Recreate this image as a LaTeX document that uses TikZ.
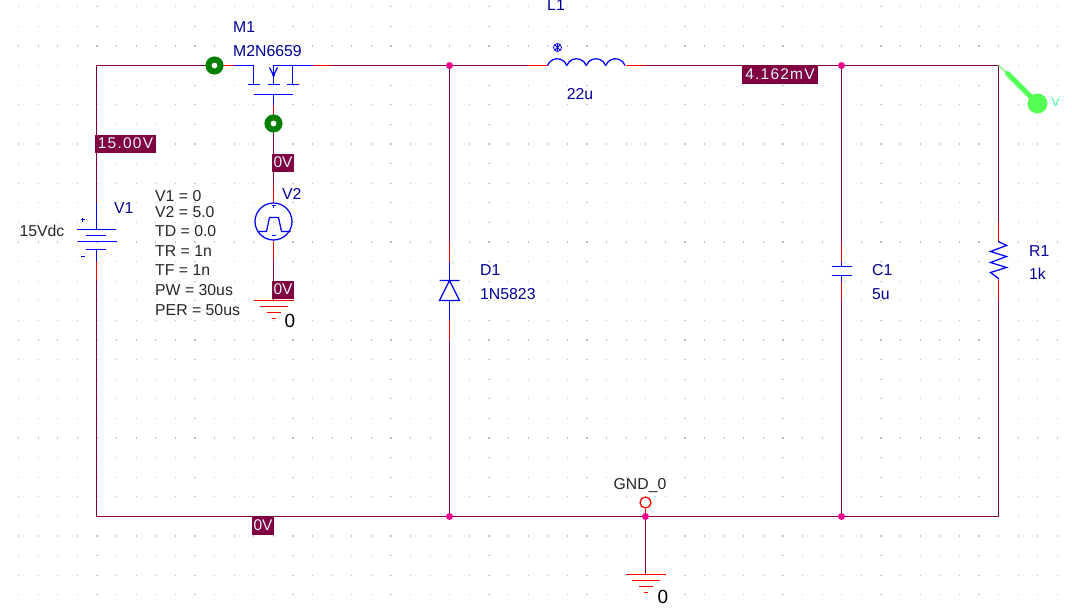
\documentclass[tikz,border=0pt]{standalone}
\usepackage{fontspec}
\setmainfont{Liberation Sans}
\definecolor{wirecol}{RGB}{128,0,64}
\definecolor{partcol}{RGB}{0,0,255}
\definecolor{textcol}{RGB}{0,0,150}
\definecolor{probecol}{RGB}{85,255,85}
\definecolor{markcol}{RGB}{0,128,0}
\definecolor{dotcol}{RGB}{190,190,190}
\tikzset{
  wire/.style={wirecol,line width=1.25pt},
  stub/.style={red,line width=1.25pt},
  part/.style={partcol,line width=1.25pt},
  parttext/.style={textcol,font=\fontsize{15.8}{15.8}\selectfont,inner sep=0pt},
  plaintext/.style={black!85,font=\fontsize{15.8}{15.8}\selectfont,inner sep=0pt},
  voltbox/.style={fill=wirecol,text=white!90!cyan,inner sep=0pt,minimum height=18,font=\fontsize{15.5}{15.5}\selectfont},
  voltwide/.style={voltbox,font=\fontsize{15.5}{15.5}\selectfont\addfontfeature{LetterSpace=8}},
  junc/.style={fill=magenta,inner sep=0pt,shape=circle,minimum size=7},
  ringmark/.style={draw=markcol,line width=6pt,fill=white,inner sep=0pt,shape=circle,minimum size=12},
  gndsym/.pic={
    \draw[stub] (-20,0)--(20,0) (-14,6)--(14,6) (-7,12)--(7,12) (-2,18)--(2,18) ;
  },
}
\begin{document}
\begin{tikzpicture}[x=1pt,y=-1pt]
  \useasboundingbox (-0.5,0.5) rectangle (1071.5,608.5) ;
  \foreach \i in {-4,...,49}
    \foreach \j in {-3,...,27}
      \fill[dotcol] ({96.5+19.6*\i-0.6},{66+19.6*\j-0.6}) rectangle ++(1.2,1.2) ;

  % corners and taps
  \coordinate (TL) at (96,66) ;
  \coordinate (TR) at (998,66) ;
  \coordinate (BL) at (96,517) ;
  \coordinate (BR) at (998,517) ;
  \node[junc] (JD) at (449,66) {} ;
  \node[junc] (JC) at (841,66) {} ;
  \node[junc] (KD) at (449,517) {} ;
  \node[junc] (KG) at (645,517) {} ;
  \node[junc] (KC) at (841,517) {} ;

  % part terminals
  \coordinate (V1a) at (96,203) ;
  \coordinate (V1b) at (96,261) ;
  \coordinate (V1c) at (96,280) ;
  \coordinate (Mr) at (215,66) ;
  \coordinate (Ms) at (233,66) ;
  \coordinate (Md) at (312,66) ;
  \coordinate (Mt) at (330,66) ;
  \coordinate (Mg) at (273,105) ;
  \coordinate (Mh) at (273,124) ;
  \coordinate (V2a) at (273,185) ;
  \coordinate (V2s) at (273,203) ;
  \coordinate (V2t) at (273,241) ;
  \coordinate (V2b) at (273,261) ;
  \coordinate (La) at (527,66) ;
  \coordinate (Lb) at (547,66) ;
  \coordinate (Lc) at (625,66) ;
  \coordinate (Ld) at (645,66) ;
  \coordinate (Da) at (449,242) ;
  \coordinate (Db) at (449,262) ;
  \coordinate (Dc) at (449,320) ;
  \coordinate (Dd) at (449,340) ;
  \coordinate (Ca) at (841,243) ;
  \coordinate (Cb) at (841,262) ;
  \coordinate (Cc) at (841,282) ;
  \coordinate (Cd) at (841,301) ;
  \coordinate (Ra) at (998,222) ;
  \coordinate (Rb) at (998,242) ;
  \coordinate (Rc) at (998,280) ;
  \coordinate (Rd) at (998,301) ;
  \coordinate (G0) at (273,301) ;
  \coordinate (G1) at (645,575) ;

  % wires
  \draw[wire] (V1a)--(TL)--(Mr) ;
  \draw[wire] (Mt)--(JD)--(La) ;
  \draw[wire] (Ld)--(JC)--(TR)--(Ra) ;
  \draw[wire] (Rd)--(BR)--(KC)--(KG)--(KD)--(BL)--(V1c) ;
  \draw[wire] (JD)--(Da) (Dd)--(KD) ;
  \draw[wire] (JC)--(Ca) (Cd)--(KC) ;
  \draw[wire] (KG)--(G1) ;
  \draw[wire] (Mh)--(V2a) (V2b)--(G0) ;

  % red stubs
  \draw[stub] (V1b)--(V1c) ;
  \draw[stub] (Mr)--(Ms) (Md)--(Mt) ;
  \draw[stub] (Mg)--(Mh) ;
  \draw[stub] (V2a)--(V2s) (V2t)--(V2b) ;
  \draw[stub] (La)--(Lb) (Lc)--(Ld) ;
  \draw[stub] (Da)--(Db) (Dc)--(Dd) ;
  \draw[stub] (Ca)--(Cb) (Cc)--(Cd) ;
  \draw[stub] (Ra)--(Rb) (Rc)--(Rd) ;

  % V1
  \draw[part] (V1a)--(96,230) (96,250)--(V1b) ;
  \draw[part] (76,230)--(115,230) (85,236)--(105,236) (77,242)--(116,242) (85,250)--(105,250) ;
  \draw[part] (80,220)--(84,220) (82,218)--(82,222) (80,257)--(84,257) ;
  % M1
  \draw[part] (Ms)--(253,66)--(253,85) (247,85)--(259,85) ;
  \draw[part] (Md)--(273,66)--(273,85) (267,85)--(279,85) ;
  \draw[part] (292,66)--(292,85) (286,85)--(298,85) ;
  \draw[part] (269,68)--(273,76)--(277,68) ;
  \fill[partcol] (273,76) circle (1.5) ;
  \draw[part] (253,95)--(292,95) (273,95)--(Mg) ;
  % V2
  \node[draw=partcol,line width=1.25pt,shape=circle,minimum size=37,inner sep=0pt] (V2c) at (273,222) {} ;
  \draw[part] (258,232)--(266,232)--(269,218)--(278,218)--(281,232)--(290,232) ;
  \draw[part] (271,206)--(275,206) (273,206)--(273,208) (271,236)--(275,236) ;
  % L1
  \draw[part] (Lb) arc (200:340:10.3) ;
  \draw[part] (566.4,66) arc (200:340:10.3) ;
  \draw[part] (585.8,66) arc (200:340:10.3) ;
  \draw[part] (605.2,66) arc (200:340:10.3) ;
  \draw[part,line width=0.8pt] (557,48) circle (4) (554.2,45.2)--(559.8,50.8) (554.2,50.8)--(559.8,45.2) (557,44)--(557,52) ;
  % D1
  \draw[part] (Db)--(449,281) (449,301)--(Dc) ;
  \draw[part] (439,281)--(459,281) (449,281)--(439,301)--(459,301)--cycle ;
  % C1
  \draw[part] (Cb)--(841,267) (841,276)--(Cc) ;
  \draw[part] (831,267)--(851,267) (831,276)--(851,276) ;
  % R1
  \draw[part] (Rb)--(1006,246)--(990,252)--(1006,257)--(990,263)--(1006,268)--(990,273)--(998,279)--(Rc) ;

  % grounds
  \pic at (G0) {gndsym} ;
  \pic at (G1) {gndsym} ;
  \node[draw=red,line width=1.25pt,shape=circle,minimum size=11,inner sep=0pt] (GO) at (645,503) {} ;
  \draw[stub] (GO)--(KG) ;

  % markers
  \node[ringmark] (RA) at (214,66) {} ;
  \node[ringmark] (RB) at (Mh) {} ;
  \node[fill=probecol,inner sep=0pt,shape=circle,minimum size=20] (PB) at (1037,104) {} ;
  \coordinate (PA) at (1007,74) ;
  \draw[probecol,line width=1pt] (TR)--(PA) ;
  \draw[probecol,line width=5pt,line cap=round] (PA)--(PB) ;
  \node[text=probecol!60!cyan,inner sep=0pt,font=\fontsize{12}{12}\selectfont] (PV) at (1055,103) {V} ;

  \begin{scope}[xshift=-0.5pt]
  % voltages
  \node[voltwide,minimum width=61] (B1) at (125.5,144) {15.00V} ;
  \node[voltbox,minimum width=22] (B2) at (283,163) {0V} ;
  \node[voltbox,minimum width=22] (B3) at (283,290) {0V} ;
  \node[voltbox,minimum width=22] (B4) at (263,526) {0V} ;
  \node[voltwide,minimum width=76] (B5) at (780,75) {4.162mV} ;

  % labels
  \node[parttext,anchor=west] (M1) at (233,27.5) {M1} ;
  \node[parttext,anchor=west] (M1v) at (233,51.5) {M2N6659} ;
  \node[parttext] (L1) at (556,5.5) {L1} ;
  \node[parttext] (L1v) at (580,94.5) {22u} ;
  \node[parttext,anchor=west] (V1) at (114,208.5) {V1} ;
  \node[plaintext] (V1v) at (42,231.5) {15Vdc} ;
  \node[parttext,anchor=west] (V2) at (282,194.5) {V2} ;
  \node[parttext,anchor=west] (D1) at (480,270.5) {D1} ;
  \node[parttext,anchor=west] (D1v) at (480,294.5) {1N5823} ;
  \node[parttext,anchor=west] (C1) at (872,270.5) {C1} ;
  \node[parttext,anchor=west] (C1v) at (872,294.5) {5u} ;
  \node[parttext,anchor=west] (R1) at (1029,251.5) {R1} ;
  \node[parttext,anchor=west] (R1v) at (1029,274.5) {1k} ;
  \node[plaintext] (GN) at (640,486.5) {GND\_0} ;
  \node[inner sep=0pt,font=\fontsize{19}{19}\selectfont] (N0) at (290,321) {0} ;
  \node[inner sep=0pt,font=\fontsize{19}{19}\selectfont] (N1) at (663,597) {0} ;
  \foreach \t/\y [count=\n] in {V1 = 0/196.5,V2 = 5.0/212.5,TD = 0.0/231.5,TR = 1n/251.5,TF = 1n/270.5,PW = 30us/290.5,PER = 50us/310.5}
    \node[plaintext,anchor=west] (P\n) at (155,\y) {\t} ;
  \end{scope}
\end{tikzpicture}
\end{document}
